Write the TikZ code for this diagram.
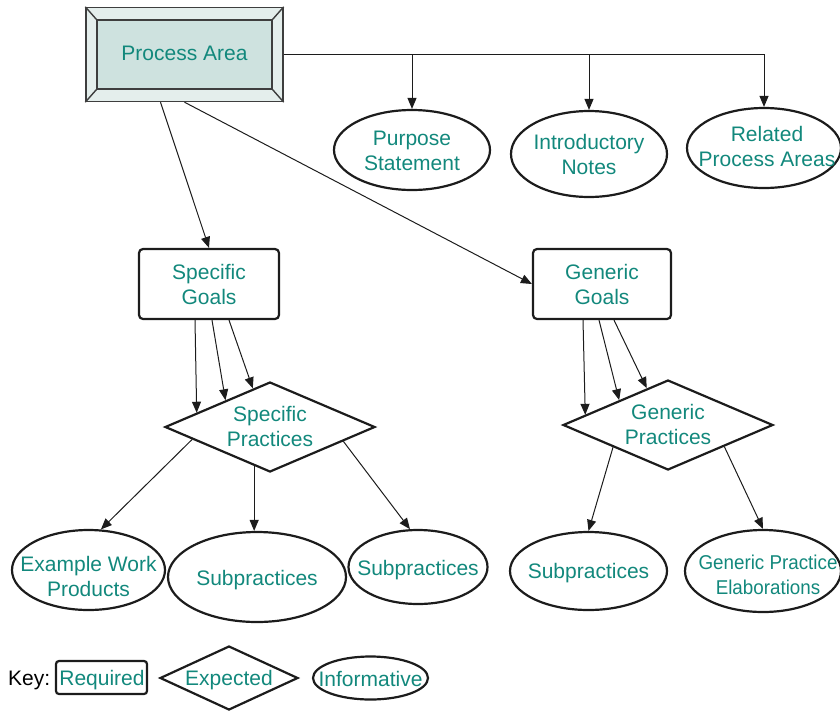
\documentclass[tikz,border=0pt]{standalone}
\usepackage{fontspec}
\usepackage{graphicx}
\setmainfont{Liberation Sans}
\usetikzlibrary{arrows.meta,shapes.geometric,calc}
\definecolor{txt}{RGB}{18,136,124}
\definecolor{paface}{RGB}{206,226,223}
\definecolor{paframe}{RGB}{228,238,236}
\definecolor{edge}{RGB}{28,28,28}
\begin{document}
\begin{tikzpicture}[x=1pt,y=-1pt,
  every node/.style={font=\fontsize{21}{25}\selectfont, text=txt, align=center, inner sep=0pt},
  req/.style={draw=edge, line width=2.2pt, rounded corners=4pt, rectangle},
  expd/.style={draw=edge, line width=2.2pt, diamond},
  inf/.style={draw=edge, line width=2.2pt, ellipse},
  bevel/.style={draw=edge!85, line width=1.4pt},
  arr/.style={draw=edge, line width=1pt, -{Triangle[length=11pt,width=9pt]}},
]
\useasboundingbox (0,0) rectangle (840,710);

% Process Area: bevelled frame
\node[bevel, fill=paframe, rectangle, minimum width=197pt, minimum height=94pt] (pao) at (184.5,54.5) {};
\node[bevel, fill=paface, rectangle, minimum width=175pt, minimum height=69pt] (pa) at (184.5,54.5) {};
\node (pa-t) at (184.5,53.5) {Process Area};
\draw[bevel] (pao.north west) -- (pa.north west);
\draw[bevel] (pao.north east) -- (pa.north east);
\draw[bevel] (pao.south west) -- (pa.south west);
\draw[bevel] (pao.south east) -- (pa.south east);

% Informative components of the process area
\node[inf, minimum width=156pt, minimum height=80pt] (ps) at (412,150) {};
\node (ps-t) at (412,151) {Purpose\\Statement};
\node[inf, minimum width=156pt, minimum height=86pt] (intro) at (589,154) {};
\node (intro-t) at (intro) {Introductory\\Notes};
\node[inf, minimum width=154pt, minimum height=80pt] (rpa) at (764,148) {};
\node (rpa-t) at (767,146) {Related\\Process Areas};

% Goals
\node[req, minimum width=140pt, minimum height=70pt] (sg) at (209,284) {Specific\\Goals};
\node[req, minimum width=138pt, minimum height=70pt] (gg) at (602,284) {Generic\\Goals};

% Practices
\node[expd, minimum width=210pt, minimum height=90pt] (sp) at (270,427) {};
\node (sp-t) at (270,426) {Specific\\Practices};
\node[expd, minimum width=210pt, minimum height=90pt] (gp) at (668,425) {};
\node (gp-t) at (668,424) {Generic\\Practices};

% Informative sub-elements
\node[inf, minimum width=153pt, minimum height=80pt] (ewp) at (88.5,570) {};
\node (ewp-t) at (88.5,576) {Example Work\\Products};
\node[inf, minimum width=178pt, minimum height=90pt] (sub1) at (257,577) {};
\node (sub1-t) at (257,580) {Subpractices};
\node[inf, minimum width=139pt, minimum height=74pt] (sub2) at (418,567) {};
\node (sub2-t) at (418,570) {Subpractices};
\node[inf, minimum width=157pt, minimum height=78pt] (sub3) at (588.5,571) {};
\node (sub3-t) at (588.5,573.5) {Subpractices};
\node[inf, minimum width=156pt, minimum height=82pt] (gpe) at (763,571) {};
\node[font=\fontsize{20}{25}\selectfont] (gpe-t) at (768,575) {\scalebox{0.94}[1]{Generic Practice}\\\scalebox{0.94}[1]{Elaborations}};

% Key
\node[anchor=west, text=black] (key) at (8,680) {Key:};
\node[req, rounded corners=3pt, minimum width=91pt, minimum height=33pt] (kreq) at (101.5,677.5) {};
\node (kreq-t) at (102,680) {Required};
\node[expd, minimum width=138pt, minimum height=64pt] (kexp) at (229,678) {};
\node (kexp-t) at (229,680) {Expected};
\node[inf, minimum width=115pt, minimum height=43pt] (kinf) at (370.5,678) {};
\node (kinf-t) at (370.5,679) {Informative};

% Connectors from the process area
\draw[arr] (pao.east) -| (rpa.north);
\draw[arr] (ps.north |- pao.east) -- (ps.north);
\draw[arr] (intro.north |- pao.east) -- (intro.north);
\draw[arr] ($(pao.south)+(-24,0)$) -- (sg.north);
\draw[arr] (pao.south) -- (gg.west);

% Goals to practices
\draw[arr] ($(sg.south)+(-14,0)$) -- (sp.169);
\draw[arr] ($(sg.south)+(3,0)$) -- (sp.149);
\draw[arr] ($(sg.south)+(20,0)$) -- (sp.114);
\draw[arr] ($(gg.south)+(-19,0)$) -- (gp.173);
\draw[arr] ($(gg.south)+(-3,0)$) -- (gp.153);
\draw[arr] ($(gg.south)+(12,0)$) -- (gp.120);

% Practices to informative elements
\draw[arr] (sp.189) -- (ewp.73);
\draw[arr] (sp.248) -- (sp.248 |- sub1.north);
\draw[arr] (sp.349) -- (sub2.102);
\draw[arr] (gp.202) -- (sub3.north);
\draw[arr] (gp.339) -- (gpe.north);
\end{tikzpicture}
\end{document}
